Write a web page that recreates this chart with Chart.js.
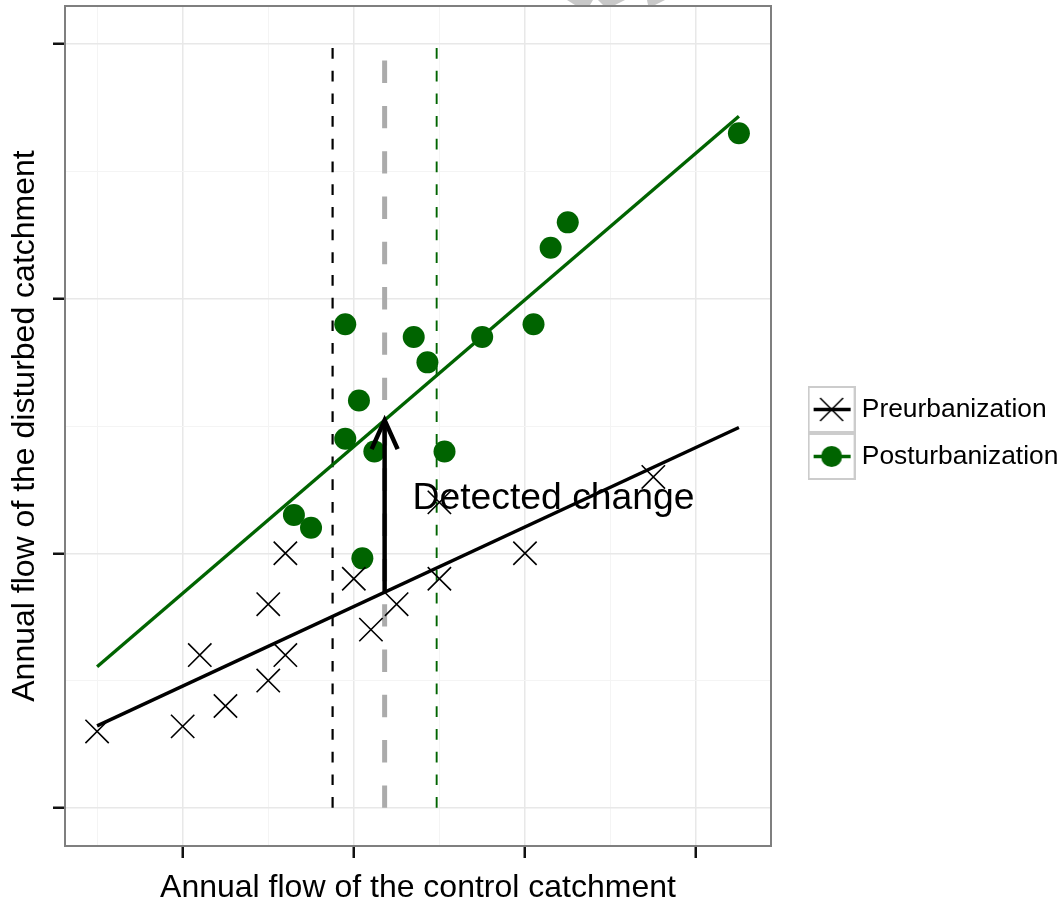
<!DOCTYPE html>
<html>
<head>
<meta charset="utf-8">
<script src="https://cdn.jsdelivr.net/npm/chart.js@4.4.1/dist/chart.umd.min.js"></script>
<style>
  html, body { margin: 0; padding: 0; background: #fff; }
  canvas { display: block; }
</style>
</head>
<body>
<canvas id="grafico" width="1063" height="907"></canvas>
<script>
// Datos (ejes sin etiquetas: unidades arbitrarias)
const preX  = [0.5, 1.0, 1.1, 1.25, 1.5, 1.5, 1.6, 1.6, 2.0, 2.1, 2.25, 2.5, 2.5, 3.0, 3.75];
const preY  = [1.30, 1.32, 1.60, 1.40, 1.80, 1.50, 2.00, 1.60, 1.90, 1.70, 1.80, 1.90, 2.20, 2.00, 2.30];
const postX = [1.65, 1.75, 1.95, 1.95, 2.03, 2.05, 2.12, 2.35, 2.43, 2.53, 2.75, 3.05, 3.15, 3.25, 4.25];
const postY = [2.15, 2.10, 2.90, 2.45, 2.60, 1.98, 2.40, 2.85, 2.75, 2.40, 2.85, 2.90, 3.20, 3.30, 3.65];

// rectas de ajuste (extremos)
const ajusteX = [0.5, 4.25];
const ajustePreY = [1.322, 2.494];
const ajustePostY = [1.554, 3.717];

// líneas verticales: media pre, punto medio, media post
const lineaPreX = 1.876;
const lineaMediaX = 2.18;
const lineaPostX = 2.484;
const lineaY = [1, 4];

// flecha del cambio detectado
const flechaX = 2.18;
const flechaY = [1.847, 2.523];
const textoCambio = 'Detected change';
const textoX = 3.167;
const textoY = 2.216;

const series = ['Preurbanization', 'Posturbanization'];

const FUENTE = '"Liberation Sans", Arial, Helvetica, sans-serif';
const VERDE = '#006400';
Chart.defaults.font.family = FUENTE;
Chart.defaults.color = '#000';

function puntos(xs, ys) {
  return xs.map((v, i) => ({ x: v, y: ys[i] }));
}

// claves de la leyenda (caja gris con línea y marcador)
function claveLeyenda(tipo) {
  const c = document.createElement('canvas');
  c.width = 48; c.height = 47;
  const g = c.getContext('2d');
  g.fillStyle = '#fff';
  g.fillRect(0, 0, 48, 47);
  g.strokeStyle = '#cccccc';
  g.lineWidth = 2;
  g.strokeRect(1, 1, 46, 45);
  g.lineWidth = 3.4;
  g.strokeStyle = tipo === 'pre' ? '#000' : VERDE;
  g.beginPath(); g.moveTo(6, 23.5); g.lineTo(43, 23.5); g.stroke();
  if (tipo === 'pre') {
    g.lineWidth = 1.6;
    g.beginPath();
    g.moveTo(12.5, 12); g.lineTo(35.5, 35);
    g.moveTo(35.5, 12); g.lineTo(12.5, 35);
    g.stroke();
  } else {
    g.fillStyle = VERDE;
    g.beginPath(); g.arc(24, 23.5, 10.5, 0, Math.PI * 2); g.fill();
  }
  return c;
}
const clavePre = claveLeyenda('pre');
const clavePost = claveLeyenda('post');

const anotaciones = {
  id: 'anotaciones',
  afterDatasetsDraw(chart) {
    const { ctx, chartArea: a, scales: { x, y } } = chart;
    ctx.save();
    // punta de flecha
    const px = x.getPixelForValue(flechaX);
    const punta = y.getPixelForValue(flechaY[1]);
    ctx.strokeStyle = '#000';
    ctx.lineWidth = 4.5;
    ctx.lineJoin = 'miter';
    ctx.beginPath();
    ctx.moveTo(px - 13, punta + 29);
    ctx.lineTo(px, punta);
    ctx.lineTo(px + 13, punta + 29);
    ctx.stroke();
    // texto
    ctx.font = '37.3px ' + FUENTE;
    ctx.fillStyle = '#000';
    ctx.textAlign = 'center';
    ctx.textBaseline = 'middle';
    ctx.fillText(textoCambio, x.getPixelForValue(textoX), y.getPixelForValue(textoY));
    // borde del panel
    ctx.strokeStyle = '#7f7f7f';
    ctx.lineWidth = 2;
    ctx.strokeRect(a.left, a.top, a.right - a.left, a.bottom - a.top);
    ctx.restore();
  },
  afterDraw(chart) {
    // restos grises cortados en el borde superior
    const ctx = chart.ctx;
    ctx.save();
    ctx.fillStyle = '#c8c8c8';
    [[567, 593, 590, 575], [598, 625, 615, 603], [647, 665, 655, 648]].forEach(f => {
      ctx.beginPath();
      ctx.moveTo(f[0], 0); ctx.lineTo(f[1], 0); ctx.lineTo(f[2], 5); ctx.lineTo(f[3], 5);
      ctx.closePath(); ctx.fill();
    });
    ctx.restore();
  }
};

const esMayor = c => c.tick && Number.isInteger(c.tick.value);
const rejilla = {
  color: c => esMayor(c) ? '#e8e8e8' : '#f4f4f4',
  lineWidth: c => esMayor(c) ? 1.5 : 1,
  tickColor: c => esMayor(c) ? '#111' : 'rgba(0,0,0,0)',
  tickWidth: 2.5,
  tickLength: 12,
  drawTicks: true
};

new Chart(document.getElementById('grafico'), {
  type: 'scatter',
  data: {
    datasets: [
      {
        label: 'flecha',
        data: puntos([flechaX, flechaX], flechaY),
        showLine: true, borderColor: '#000', borderWidth: 4.5, pointRadius: 0, order: 0
      },
      {
        label: series[0],
        data: puntos(preX, preY),
        pointStyle: 'crossRot', pointRadius: 16.5, pointHoverRadius: 16.5,
        borderColor: '#000', borderWidth: 1.6, backgroundColor: '#000', order: 1
      },
      {
        label: series[1],
        data: puntos(postX, postY),
        pointStyle: 'circle', pointRadius: 11, pointHoverRadius: 11,
        backgroundColor: VERDE, borderWidth: 0, order: 2
      },
      {
        label: 'ajuste pre',
        data: puntos(ajusteX, ajustePreY),
        showLine: true, borderColor: '#000', borderWidth: 3.4, pointRadius: 0, order: 3
      },
      {
        label: 'ajuste post',
        data: puntos(ajusteX, ajustePostY),
        showLine: true, borderColor: VERDE, borderWidth: 3.4, pointRadius: 0, order: 4
      },
      {
        label: 'media pre',
        data: puntos([lineaPreX, lineaPreX], lineaY),
        showLine: true, borderColor: '#000', borderWidth: 2.2, borderDash: [10.7, 12], pointRadius: 0, order: 5
      },
      {
        label: 'media',
        data: puntos([lineaMediaX, lineaMediaX], lineaY),
        showLine: true, borderColor: '#ababab', borderWidth: 5, borderDash: [22.4, 22.9], pointRadius: 0, order: 6
      },
      {
        label: 'media post',
        data: puntos([lineaPostX, lineaPostX], lineaY),
        showLine: true, borderColor: VERDE, borderWidth: 1.9, borderDash: [10.7, 12], pointRadius: 0, order: 7
      }
    ]
  },
  options: {
    responsive: false,
    animation: false,
    events: [],
    layout: { autoPadding: false, padding: { top: 6, left: 0, right: 0, bottom: 0 } },
    plugins: {
      tooltip: { enabled: false },
      legend: {
        position: 'right',
        fullSize: false,
        maxWidth: 269,
        title: { display: true, text: '', padding: { top: 13, bottom: 0 }, font: { size: 1, lineHeight: 1 } },
        labels: {
          usePointStyle: true,
          pointStyleWidth: 34,
          padding: 20.6,
          color: '#000',
          font: { size: 26.4 },
          generateLabels: () => [
            { text: series[0], pointStyle: clavePre, fillStyle: '#fff', strokeStyle: '#fff', lineWidth: 0, hidden: false, datasetIndex: 1 },
            { text: series[1], pointStyle: clavePost, fillStyle: '#fff', strokeStyle: '#fff', lineWidth: 0, hidden: false, datasetIndex: 2 }
          ]
        }
      }
    },
    scales: {
      x: {
        type: 'linear',
        min: 0.3125, max: 4.4375,
        grid: rejilla,
        border: { display: false },
        ticks: { display: false, stepSize: 0.5, includeBounds: false },
        title: { display: true, text: 'Annual flow of the control catchment', font: { size: 32 }, color: '#000', padding: { top: 0, bottom: 0 } },
        afterFit: s => { s.height = 61; }
      },
      y: {
        type: 'linear',
        min: 0.85, max: 4.15,
        grid: rejilla,
        border: { display: false },
        ticks: { display: false, stepSize: 0.5, includeBounds: false },
        title: { display: true, text: 'Annual flow of the disturbed catchment', font: { size: 32 }, color: '#000', padding: { top: 6, bottom: 0 } },
        afterFit: s => { s.width = 65; }
      },
      espacio: {
        type: 'linear',
        position: 'right',
        display: true,
        grid: { display: false },
        border: { display: false },
        ticks: { display: false },
        afterFit: s => { s.width = 23; }
      }
    }
  },
  plugins: [anotaciones]
});
</script>
</body>
</html>
